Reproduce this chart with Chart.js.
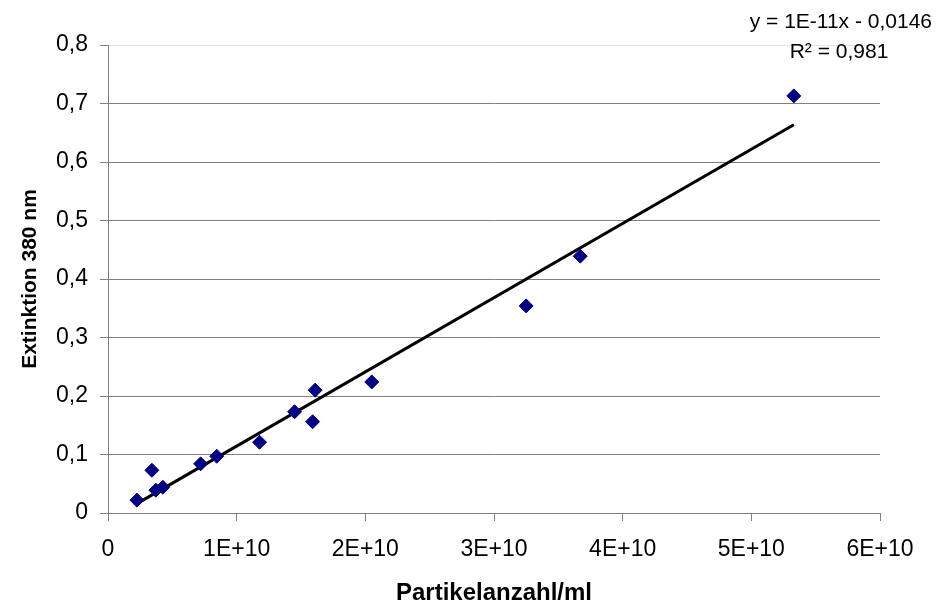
<!DOCTYPE html>
<html>
<head>
<meta charset="utf-8">
<script src="https://cdn.jsdelivr.net/npm/chart.js@4.4.1/dist/chart.umd.min.js"></script>
<style>
  html, body { margin: 0; padding: 0; background: #fff; }
  #wrap { width: 936px; height: 608px; }
</style>
</head>
<body>
<div id="wrap"><canvas id="c" width="936" height="608"></canvas></div>
<script>
// Partikelanzahl/ml (x) and Extinktion 380 nm (y)
const particles = [2.25e9, 3.41e9, 3.72e9, 4.26e9, 7.2e9, 8.45e9, 1.178e10, 1.45e10, 1.59e10, 1.61e10, 2.05e10, 3.25e10, 3.67e10, 5.33e10];
const extinction = [0.022, 0.073, 0.039, 0.044, 0.084, 0.097, 0.121, 0.173, 0.156, 0.210, 0.224, 0.354, 0.439, 0.713];

const xTicks = [0, 1e10, 2e10, 3e10, 4e10, 5e10, 6e10];
const yTicks = [0, 0.1, 0.2, 0.3, 0.4, 0.5, 0.6, 0.7, 0.8];

const equationText = 'y = 1E-11x - 0,0146';
const r2Text = 'R\u00B2 = 0,981';

const points = particles.map((x, i) => ({ x: x, y: extinction[i] }));

// least squares trend line over the data range
function trendLine(xs, ys) {
  const n = xs.length;
  let sx = 0, sy = 0, sxy = 0, sxx = 0;
  for (let i = 0; i < n; i++) {
    sx += xs[i]; sy += ys[i];
    sxy += xs[i] * ys[i]; sxx += xs[i] * xs[i];
  }
  const m = (n * sxy - sx * sy) / (n * sxx - sx * sx);
  const b = (sy - m * sx) / n;
  const x0 = Math.min(...xs), x1 = Math.max(...xs);
  return [{ x: x0, y: m * x0 + b }, { x: x1, y: m * x1 + b }];
}

const font = "'Liberation Sans', Arial, sans-serif";

const equationPlugin = {
  id: 'equation',
  afterDraw(chart) {
    const ctx = chart.ctx;
    ctx.save();
    ctx.fillStyle = '#000';
    ctx.font = '21px ' + font;
    ctx.textBaseline = 'middle';
    ctx.textAlign = 'right';
    ctx.fillText(equationText, 932, 22);
    ctx.textAlign = 'center';
    ctx.fillText(r2Text, 839, 52);
    ctx.restore();
  }
};

new Chart(document.getElementById('c'), {
  type: 'scatter',
  data: {
    datasets: [{
      label: 'Messwerte',
      data: points,
      pointStyle: 'rectRot',
      pointRadius: 7,
      pointHoverRadius: 7,
      backgroundColor: '#000080',
      borderColor: '#000080',
      borderWidth: 1,
      order: 1
    }, {
      type: 'line',
      label: 'Trend',
      data: trendLine(particles, extinction),
      borderColor: '#000',
      borderWidth: 3,
      pointRadius: 0,
      fill: false,
      order: 2
    }]
  },
  options: {
    responsive: false,
    animation: false,
    layout: { padding: { left: 0, right: 56, top: 45, bottom: 0 } },
    plugins: {
      legend: { display: false },
      tooltip: { enabled: false }
    },
    scales: {
      x: {
        type: 'linear',
        min: 0,
        max: 6e10,
        afterBuildTicks: (scale) => { scale.ticks = xTicks.map(v => ({ value: v })); },
        afterFit: (scale) => { scale.height = 95; },
        ticks: {
          color: '#000',
          font: { family: font, size: 23 },
          padding: 15,
          maxRotation: 0,
          callback: (v) => v === 0 ? '0' : (v / 1e10) + 'E+10'
        },
        grid: { drawOnChartArea: false, drawTicks: true, tickLength: 8, tickColor: '#808080', lineWidth: 1 },
        border: { display: true, color: '#808080', width: 1 },
        title: {
          display: true,
          text: 'Partikelanzahl/ml',
          color: '#000',
          font: { family: font, size: 24, weight: 'bold' },
          padding: { top: 1, bottom: 0 }
        }
      },
      y: {
        type: 'linear',
        min: 0,
        max: 0.8,
        afterBuildTicks: (scale) => { scale.ticks = yTicks.map(v => ({ value: v })); },
        afterFit: (scale) => { scale.width = 108; },
        ticks: {
          color: '#000',
          font: { family: font, size: 23 },
          padding: 12,
          callback: (v) => v === 0 ? '0' : v.toFixed(1).replace('.', ',')
        },
        grid: {
          color: (c) => c.tick && c.tick.value >= 0.79 ? '#e4e4e4' : '#808080',
          tickColor: '#808080',
          tickLength: 8,
          lineWidth: 1
        },
        border: { display: true, color: '#808080', width: 1 },
        title: {
          display: true,
          text: 'Extinktion 380 nm',
          color: '#000',
          font: { family: font, size: 21, weight: 'bold' },
          padding: { top: 18, bottom: 0 }
        }
      }
    }
  },
  plugins: [equationPlugin]
});
</script>
</body>
</html>
